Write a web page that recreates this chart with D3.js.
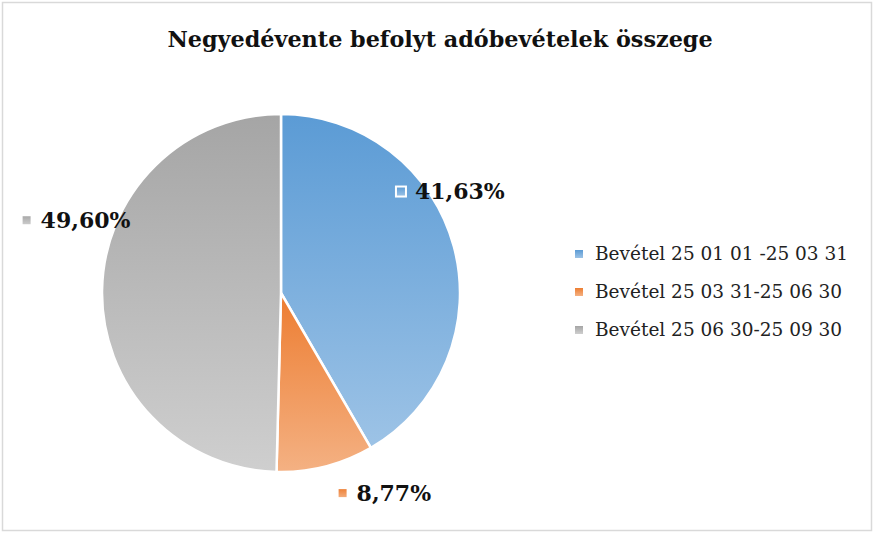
<!DOCTYPE html>
<html>
<head>
<meta charset="utf-8">
<script src="https://cdn.jsdelivr.net/npm/d3@7"></script>
<style>
  body { margin: 0; background: #fff; }
  svg { display: block; }
</style>
</head>
<body>
<script>
// chart data
const categories = ["Bevétel 25 01 01 -25 03 31", "Bevétel 25 03 31-25 06 30", "Bevétel 25 06 30-25 09 30"];
const shares = [41.63, 8.77, 49.60];
const labels = ["41,63%", "8,77%", "49,60%"];

// colours (top / bottom of the gradient)
const colTop = ["#5b9bd5", "#ed7d31", "#a5a5a5"];
const colBottom = ["#9dc3e6", "#f4b183", "#cfcfcf"];

// where each data label sits: angle from top (deg) and distance from centre
const labelSpots = [[59.0, 197], [152.8, 225], [289.5, 218]];

const width = 873, height = 533;
const cx = 281, cy = 293, radius = 179;
const serif = "'DejaVu Serif', 'Liberation Serif', serif";

const svg = d3.select("body").append("svg")
    .attr("width", width)
    .attr("height", height);

// chart frame
svg.append("rect")
    .attr("x", 2.5).attr("y", 2.5)
    .attr("width", width - 4).attr("height", height - 5)
    .attr("fill", "#fff")
    .attr("stroke", "#d9d9d9")
    .attr("stroke-width", 1.5);

// gradients
const defs = svg.append("defs");
categories.forEach((c, i) => {
    const g = defs.append("linearGradient")
        .attr("id", "grad" + i)
        .attr("x1", 0).attr("y1", 0).attr("x2", 0).attr("y2", 1);
    g.append("stop").attr("offset", "0%").attr("stop-color", colTop[i]);
    g.append("stop").attr("offset", "100%").attr("stop-color", colBottom[i]);
});

// title
svg.append("text")
    .attr("x", 440)
    .attr("y", 47)
    .attr("text-anchor", "middle")
    .attr("font-family", serif)
    .attr("font-weight", "bold")
    .attr("font-size", 22.3)
    .attr("fill", "#111")
    .text("Negyedévente befolyt adóbevételek összege");

// pie
const pie = d3.pie().sort(null).value(d => d)(shares);
const arc = d3.arc().innerRadius(0).outerRadius(radius);

const slices = svg.append("g").attr("transform", `translate(${cx},${cy})`);
slices.selectAll("path")
    .data(pie)
    .join("path")
    .attr("d", arc)
    .attr("fill", (d, i) => `url(#grad${i})`)
    .attr("stroke", "#fff")
    .attr("stroke-width", 2.5);

// data labels
const lab = svg.append("g").attr("transform", `translate(${cx},${cy})`);
pie.forEach((d, i) => {
    const a = labelSpots[i][0] * Math.PI / 180;
    const r = labelSpots[i][1];
    const g = lab.append("g")
        .attr("transform", `translate(${r * Math.sin(a)},${-r * Math.cos(a)})`);
    const t = g.append("text")
        .attr("font-family", serif)
        .attr("font-weight", "bold")
        .attr("font-size", 22)
        .attr("fill", "#111")
        .attr("dy", "0.35em")
        .text(labels[i]);
    const w = t.node().getComputedTextLength() + 20;
    t.attr("x", -w / 2 + 20);
    g.append("rect")
        .attr("x", -w / 2 + 1)
        .attr("y", -5)
        .attr("width", 10).attr("height", 10)
        .attr("fill", `url(#grad${i})`)
        .attr("stroke", "#fff")
        .attr("stroke-width", 2);
});

// legend
const legend = svg.append("g").attr("transform", "translate(575,254)");
const rows = legend.selectAll("g")
    .data(categories)
    .join("g")
    .attr("transform", (d, i) => `translate(0,${i * 38})`);
rows.append("rect")
    .attr("x", 0).attr("y", -4)
    .attr("width", 8).attr("height", 8)
    .attr("fill", (d, i) => `url(#grad${i})`);
rows.append("text")
    .attr("x", 20)
    .attr("dy", "0.35em")
    .attr("font-family", serif)
    .attr("font-size", 18.5)
    .attr("fill", "#222")
    .text(d => d);
</script>
</body>
</html>
